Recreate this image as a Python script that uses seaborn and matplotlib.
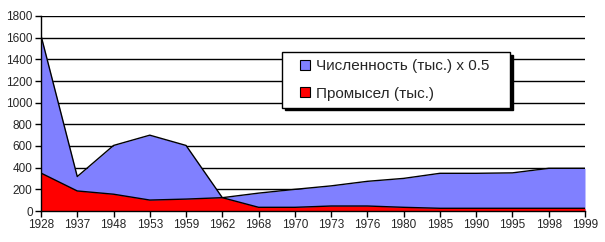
import matplotlib
matplotlib.use("Agg")
import matplotlib.pyplot as plt
import seaborn as sns
import pandas as pd
import numpy as np
from matplotlib.lines import Line2D

years = ["1928", "1937", "1948", "1953", "1959", "1962", "1968", "1970",
         "1973", "1976", "1980", "1985", "1990", "1995", "1998", "1999"]
population = [1620, 318, 605, 700, 605, 123, 165, 200, 232, 274, 301, 348, 348, 352, 394, 394]
catch = [350, 185, 155, 101, 110, 123, 34, 34, 46, 46, 34, 25, 25, 25, 25, 25]
label_pop = "Численность (тыс.) x 0.5"
label_catch = "Промысел (тыс.)"
yticks = [0, 200, 400, 600, 800, 1000, 1200, 1400, 1600, 1800]

sns.set_style("white")
plt.rcParams['font.family'] = ['Liberation Sans', 'DejaVu Sans']

df = pd.DataFrame({"pos": np.arange(len(years)), "year": years,
                   "pop": population, "catch": catch})

fig = plt.figure(figsize=(6.05, 2.42), dpi=100)
ax = fig.add_axes([41/605, 31/242, 544/605, 195/242])

for yv in yticks[1:]:
    ax.axhline(yv, color="black", lw=1.0, zorder=0)

ax.fill_between(df["pos"], df["pop"], color="#8080ff", zorder=1, lw=0)
sns.lineplot(data=df, x="pos", y="pop", color="black", lw=1.0, ax=ax, zorder=2)
ax.fill_between(df["pos"], df["catch"], color="#ff0000", zorder=3, lw=0)
sns.lineplot(data=df, x="pos", y="catch", color="black", lw=1.0, ax=ax, zorder=4)

ax.set_xlim(0, len(years) - 1)
ax.set_ylim(0, 1800)
ax.set_xticks(df["pos"])
ax.set_xticklabels(years, fontsize=8.5)
ax.set_yticks(yticks)
ax.set_yticklabels([str(v) for v in yticks], fontsize=8.5)
ax.set_xlabel("")
ax.set_ylabel("")
for s in ["top", "right"]:
    ax.spines[s].set_visible(False)
for s in ["left", "bottom"]:
    ax.spines[s].set_color("black")
    ax.spines[s].set_linewidth(1.0)
    ax.spines[s].set_zorder(5)
ax.tick_params(axis="x", direction="out", length=4, width=1, color="black", pad=2)
ax.tick_params(axis="y", direction="out", length=4, width=1, color="black", pad=2)
ax.tick_params(bottom=True, left=True)

handles = [Line2D([], [], ls="none", marker="s", markersize=6.8, markerfacecolor="#8080ff",
                  markeredgecolor="black", markeredgewidth=0.8, label=label_pop),
           Line2D([], [], ls="none", marker="s", markersize=6.8, markerfacecolor="#ff0000",
                  markeredgecolor="black", markeredgewidth=0.8, label=label_catch)]
leg = ax.legend(handles=handles, loc="upper left",
                bbox_to_anchor=(0.443, 0.533, 0.419, 0.282), mode="expand",
                fontsize=11, frameon=True, fancybox=False,
                shadow={'color': 'black', 'alpha': 1},
                handlelength=2.1, handletextpad=-0.35,
                labelspacing=0.9, borderpad=0.45, borderaxespad=0)
leg.get_frame().set_edgecolor("black")
leg.get_frame().set_linewidth(1.0)
leg.get_frame().set_facecolor("white")
leg.set_zorder(10)

fig.savefig("out.png", dpi=100)
